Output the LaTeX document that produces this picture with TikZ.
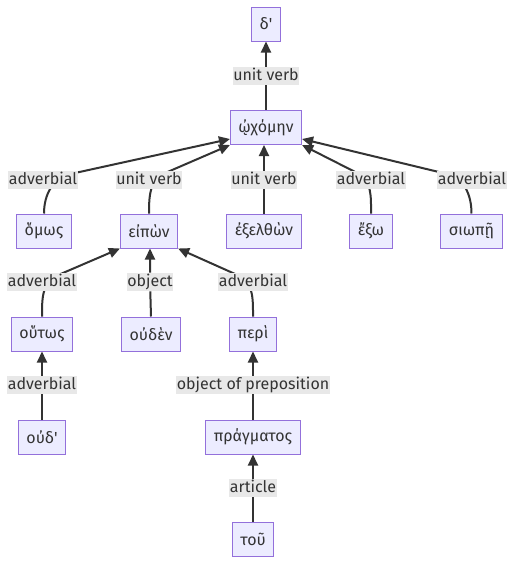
\documentclass[tikz,border=0pt]{standalone}
\usepackage{fontspec}
\setmainfont{Fira Sans}[Ligatures=TeXOff]
\usepackage{tikz}
\usetikzlibrary{arrows.meta,calc,backgrounds}
\definecolor{nodefill}{HTML}{ECECFF}
\definecolor{nodeline}{HTML}{9370DB}
\definecolor{labelbg}{HTML}{E8E8E8}
\definecolor{ink}{HTML}{333333}
\tikzset{
  word/.style={draw=nodeline,fill=nodefill,line width=1pt,text=ink,minimum height=34pt,inner xsep=8pt,inner ysep=0pt,font=\fontsize{16}{19}\selectfont},
  rel/.style={fill=labelbg,text=ink,inner xsep=0.5pt,inner ysep=0pt,text height=13.5pt,text depth=5pt,font=\fontsize{16}{19}\selectfont},
  edge/.style={draw=ink,line width=2pt,-{Triangle[length=11pt,width=10pt]}}
}
\begin{document}
\begin{tikzpicture}[x=1pt,y=1pt]
  \useasboundingbox (0,0) rectangle (514,-565);
  % Wörter
  \node[word] (delta) at (266,-24) {δ'};
  \node[word] (okh) at (266,-127.5) {ᾠχόμην};
  \node[word] (omos) at (44,-231) {ὅμως};
  \node[word] (eipon) at (149,-231) {εἰπὼν};
  \node[word] (exelthon) at (264,-231) {ἐξελθὼν};
  \node[word] (exo) at (371,-231) {ἔξω};
  \node[word] (siope) at (471.5,-231) {σιωπῇ};
  \node[word] (houtos) at (42,-334) {οὕτως};
  \node[word] (ouden) at (151,-334) {οὐδὲν};
  \node[word] (peri) at (253,-334) {περὶ};
  \node[word] (oud) at (42,-437) {οὐδ'};
  \node[word] (pragmatos) at (253,-437) {πράγματος};
  \node[word] (tou) at (253,-539) {τοῦ};
  % Beziehungen
  \node[rel] (l-okh) at (266,-76) {unit verb};
  \node[rel] (l-omos) at (43,-180) {adverbial};
  \node[rel] (l-eipon) at (149,-180) {unit verb};
  \node[rel] (l-exelthon) at (264,-180) {unit verb};
  \node[rel] (l-exo) at (371,-180) {adverbial};
  \node[rel] (l-siope) at (472,-180) {adverbial};
  \node[rel] (l-houtos) at (42,-282) {adverbial};
  \node[rel] (l-ouden) at (150,-282) {object};
  \node[rel] (l-peri) at (253,-282) {adverbial};
  \node[rel] (l-oud) at (42,-385) {adverbial};
  \node[rel] (l-pragmatos) at (253,-385) {object of preposition};
  \node[rel] (l-tou) at (253,-488) {article};
  \begin{pgfonlayer}{background}
    \draw[edge] (okh.north) -- (l-okh) -- (delta.south);
    \draw[edge] (omos.north) to[out=90,in=192] ($(l-omos)!.15!($(okh.south west)+(0,6)$)$) -- ($(okh.south west)+(0,6)$); % links außen
    \draw[edge] (eipon.north) to[out=90,in=203] ($(l-eipon)!.2!(okh.south west)$) -- (okh.south west);
    \draw[edge] (exelthon.north) -- (l-exelthon) -- (exelthon.north |- okh.south);
    \draw[edge] (exo.north) to[out=90,in=-27] ($(l-exo)!.2!(okh.south east)$) -- (okh.south east);
    \draw[edge] (siope.north) to[out=90,in=-13] ($(l-siope)!.15!($(okh.south east)+(0,6)$)$) -- ($(okh.south east)+(0,6)$); % rechts außen
    \draw[edge] (houtos.north) to[out=90,in=203] ($(l-houtos)!.2!(eipon.south west)$) -- (eipon.south west);
    \draw[edge] (ouden.north) -- (l-ouden) -- ($(eipon.south)+(1,0)$);
    \draw[edge] (peri.north) to[out=90,in=-24] ($(l-peri)!.2!(eipon.south east)$) -- (eipon.south east);
    \draw[edge] (oud.north) -- (l-oud) -- (houtos.south);
    \draw[edge] (pragmatos.north) -- (l-pragmatos) -- (peri.south);
    \draw[edge] (tou.north) -- (l-tou) -- (pragmatos.south);
  \end{pgfonlayer}
\end{tikzpicture}
\end{document}
